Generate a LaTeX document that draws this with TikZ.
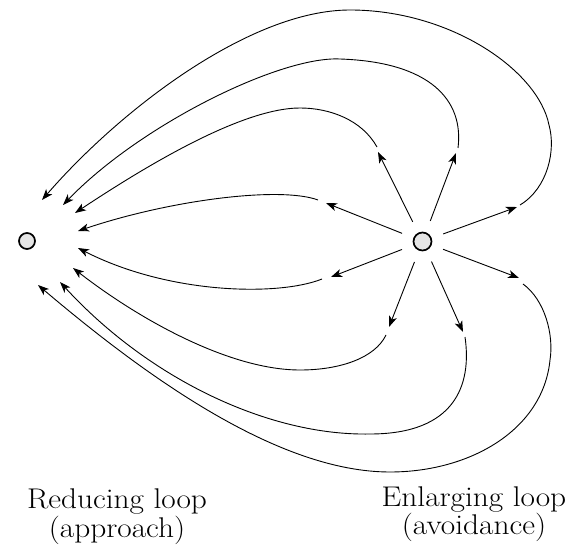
\documentclass[tikz,border=0pt]{standalone}
\usepackage{fontspec}
\setmainfont{Latin Modern Roman}[FakeStretch=1.1]
\usetikzlibrary{arrows.meta,calc}
\begin{document}
\begin{tikzpicture}[x=1pt,y=-1pt,line width=0.9pt,
  tip/.style={-{Stealth[length=11pt,width=8pt,inset=3pt]}},
  spot/.style={circle,draw,line width=1.7pt,fill=gray!20,inner sep=0pt},
  lbl/.style={font=\fontsize{28.5}{25}\selectfont,align=center,anchor=base,inner sep=0pt}]
\useasboundingbox (0,0) rectangle (568,548);

% the two goals
\node[spot,minimum size=16pt] (A) at (27,241) {};
\node[spot,minimum size=18pt] (R) at (422.5,241.5) {};

% tips of the short rays leaving the avoided goal
\coordinate (t1) at (326,203);
\coordinate (t2) at (378,152);
\coordinate (t3) at (456,153);
\coordinate (t4) at (517,207);
\coordinate (t5) at (519,278);
\coordinate (t6) at (463,332);
\coordinate (t7) at (389,327);
\coordinate (t8) at (331,277);

% where each loop resumes after the gap
\coordinate (c1) at (318,200);
\coordinate (c2) at (377,147);
\coordinate (c3) at (458,148);
\coordinate (c4) at (520,205);
\coordinate (c5) at (523,284);
\coordinate (c6) at (465,337);
\coordinate (c7) at (386,335);
\coordinate (c8) at (322,279);

% arrow heads near the approached goal
\coordinate (l1) at (78,231);
\coordinate (l2) at (75,213);
\coordinate (l3) at (63,205);
\coordinate (l4) at (42,200);
\coordinate (l5) at (38,285);
\coordinate (l6) at (60,282);
\coordinate (l7) at (73,268);
\coordinate (l8) at (78,248);

% rays
\foreach \i in {1,...,8}
  \draw[tip] ($(R)!22pt!(t\i)$) -- (t\i);

% loops bending back to the left goal
\draw[tip] (c1) .. controls (280,186) and (170,200) .. (l1);
\draw[tip] (c2) .. controls (362,120) and (330,108) .. (300,108)
                .. controls (240,108) and (140,170) .. (l2);
\draw[tip] (c3) .. controls (464,100) and (430,62) .. (340,59)
                .. controls (280,56) and (140,125) .. (l3);
\draw[tip] (c4) .. controls (548,188) and (556,150) .. (549,125)
                .. controls (538,70) and (450,10) .. (350,10)
                .. controls (250,10) and (120,110) .. (l4);
\draw[tip] (c5) .. controls (545,300) and (554,335) .. (550,360)
                .. controls (543,430) and (470,472) .. (390,472)
                .. controls (280,472) and (150,380) .. (l5);
\draw[tip] (c6) .. controls (472,385) and (455,434) .. (370,434)
                .. controls (270,436) and (150,380) .. (l6);
\draw[tip] (c7) .. controls (375,358) and (340,370) .. (300,370)
                .. controls (230,370) and (140,320) .. (l7);
\draw[tip] (c8) .. controls (280,296) and (170,295) .. (l8);

% captions (the base anchor sits on the second line)
\node[lbl] (red) at (117,537) {Reducing loop\\(approach)};
\node[lbl] (enl) at (474,534.5) {Enlarging loop\\(avoidance)};
\end{tikzpicture}
\end{document}
